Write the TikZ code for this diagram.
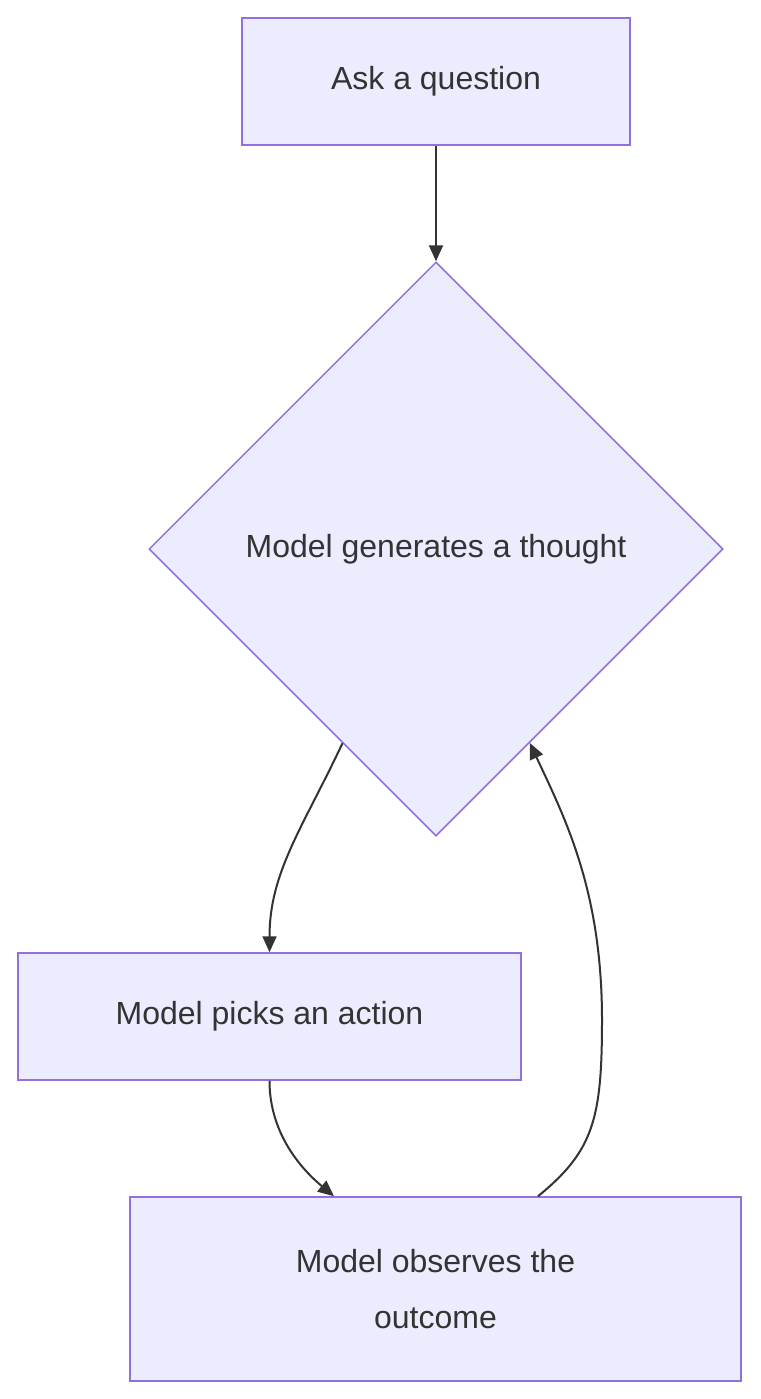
\documentclass[tikz,border=0pt]{standalone}
\usepackage{fontspec}
\setmainfont{Liberation Sans}
\usetikzlibrary{shapes.geometric,arrows.meta,calc}
\definecolor{boxfill}{HTML}{ECECFF}
\definecolor{boxline}{HTML}{9370DB}
\definecolor{ink}{HTML}{333333}
\begin{document}
\begin{tikzpicture}[x=1pt,y=-1pt,
  stage/.style={rectangle,draw=boxline,fill=boxfill,line width=1.5pt,text=ink,
    font=\fontsize{32}{56}\selectfont,align=center,inner sep=0pt},
  choice/.style={diamond,draw=boxline,fill=boxfill,line width=1.5pt,text=ink,
    font=\fontsize{32}{44}\selectfont,aspect=1,inner sep=0pt,
    minimum width=574pt,minimum height=574pt},
  link/.style={draw=ink,line width=2pt,-{Triangle[length=16pt,width=14pt]}}]
  \useasboundingbox (0,0) rectangle (760,1399);

  % nodes
  \node[stage,minimum width=388pt,minimum height=127pt] (ask) at (436,81.5){Ask a question};
  \node[choice] (thought) at (436,549){Model generates a thought};
  \node[stage,minimum width=503pt,minimum height=127pt] (pick) at (269.5,1016.5){Model picks an action};
  \node[stage,minimum width=611pt,minimum height=184pt] (observe) at (435.5,1289){Model observes the\\outcome};

  % connectors
  \coordinate (tl) at ($(thought.west)!0.675!(thought.south)$);
  \coordinate (tr) at ($(thought.east)!0.674!(thought.south)$);
  \coordinate (oin) at ([xshift=-101.5pt]observe.north);
  \coordinate (oout) at ([xshift=102.5pt]observe.north);
  \path[link] (ask) -- (thought.north);
  \path[link] (tl) .. controls +(-40,85) and +(0,-80) .. (pick.north);
  \path[link] (pick.south) .. controls +(0,55) and +(-30,-25) .. (oin);
  \path[link] (oout) .. controls +(55,-45) and +(0,100) .. (602,1020)
    .. controls +(0,-130) and +(35,75) .. (tr);
\end{tikzpicture}
\end{document}
